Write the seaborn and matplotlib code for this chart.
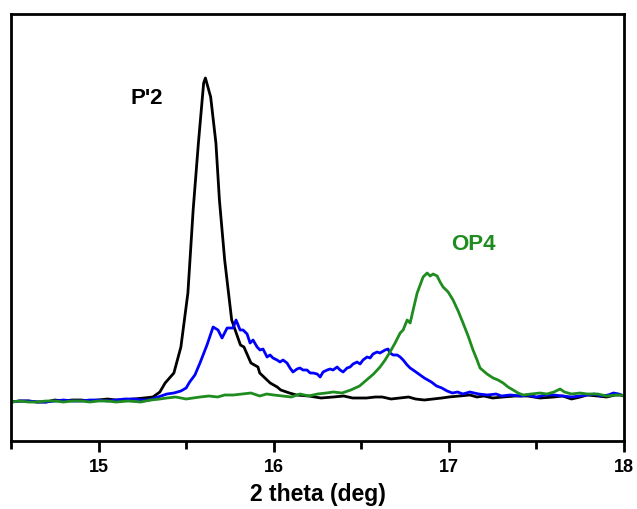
import matplotlib
matplotlib.use("Agg")
import matplotlib.pyplot as plt
from matplotlib.ticker import MultipleLocator
import seaborn as sns
import pandas as pd

# ---- data (intensity in arbitrary units) ----
black_x = [14.50, 14.55, 14.60, 14.65, 14.70, 14.75, 14.80, 14.85, 14.90, 14.95,
           15.00, 15.05, 15.10, 15.15, 15.20, 15.26, 15.31,
           15.35, 15.38, 15.43, 15.47, 15.51, 15.54, 15.57, 15.60, 15.61, 15.64,
           15.67, 15.69, 15.72, 15.76, 15.81, 15.83, 15.87, 15.91, 15.92, 15.98,
           16.02, 16.04, 16.09, 16.13, 16.20, 16.27, 16.34, 16.40, 16.45, 16.53,
           16.58, 16.62, 16.67, 16.72, 16.77, 16.81, 16.86, 16.91, 16.96, 17.00,
           17.06, 17.12, 17.16, 17.20, 17.25, 17.31, 17.38, 17.45, 17.52, 17.60,
           17.65, 17.70, 17.75, 17.79, 17.85, 17.90, 17.95, 17.98, 18.00]
black_y = [0, 1, 1, 0, 0, 2, 1, 2, 2, 1,
           2, 3, 2, 2, 3, 4, 5,
           10, 19, 29, 55, 109, 192, 259, 319, 324, 305,
           259, 202, 142, 82, 57, 55, 39, 35, 29, 19,
           15, 12, 9, 7, 6, 4, 5, 6, 4, 4,
           5, 5, 3, 4, 5, 3, 2, 3, 4, 5,
           6, 7, 5, 6, 4, 5, 6, 6, 4, 5,
           6, 3, 5, 7, 6, 5, 7, 7, 6]

blue_x = [14.50, 14.55, 14.60, 14.65, 14.70, 14.75, 14.80, 14.85, 14.90, 14.95,
          15.00, 15.05, 15.10, 15.15, 15.20, 15.25, 15.29, 15.34, 15.39, 15.43,
          15.47, 15.50, 15.52, 15.55, 15.579, 15.619, 15.654, 15.682, 15.705,
          15.734, 15.768, 15.785, 15.808, 15.825, 15.848, 15.865, 15.882, 15.905,
          15.922, 15.939, 15.962, 15.979, 15.996, 16.019, 16.036, 16.053, 16.076,
          16.093, 16.110, 16.133, 16.150, 16.167, 16.190, 16.208, 16.225, 16.248,
          16.265, 16.282, 16.305, 16.322, 16.339, 16.362, 16.379, 16.396, 16.419,
          16.436, 16.453, 16.476, 16.493, 16.510, 16.533, 16.550, 16.567, 16.590,
          16.607, 16.636, 16.653, 16.664, 16.682, 16.705, 16.722, 16.739, 16.762,
          16.779, 16.796, 16.82, 16.86, 16.90, 16.93, 16.96, 16.99, 17.02, 17.05,
          17.08, 17.12, 17.17, 17.22, 17.27, 17.30, 17.35, 17.41, 17.45, 17.50,
          17.55, 17.60, 17.65, 17.70, 17.75, 17.79, 17.83, 17.87, 17.91, 17.94,
          17.97, 18.00]
blue_y = [0, 1, 1, 0, 0, 1, 2, 1, 1, 2,
          2, 1, 2, 3, 3, 2, 2, 5, 8, 9,
          11, 14, 20, 27, 39, 57, 75, 72, 64,
          74, 74, 82, 72, 72, 68, 59, 62, 55,
          52, 53, 45, 47, 44, 42, 40, 42, 39,
          34, 30, 33, 34, 32, 32, 29, 29, 28,
          25, 30, 32, 33, 32, 35, 32, 30, 34,
          35, 38, 40, 38, 42, 45, 44, 48, 50,
          49, 52, 53, 49, 47, 47, 45, 42, 37,
          34, 32, 29, 24, 20, 16, 14, 11, 9, 10,
          8, 10, 8, 7, 8, 6, 7, 6, 7, 5,
          7, 7, 6, 5, 6, 7, 8, 6, 7, 9,
          8, 6]

green_x = [14.50, 14.55, 14.60, 14.65, 14.70, 14.75, 14.80, 14.85, 14.90, 14.95,
           15.00, 15.05, 15.10, 15.17, 15.24, 15.30, 15.35, 15.39, 15.44, 15.50,
           15.54, 15.58, 15.63, 15.68, 15.72, 15.77, 15.82, 15.87, 15.92, 15.96,
           16.00, 16.05, 16.10, 16.15, 16.20, 16.25, 16.30, 16.34, 16.39, 16.44,
           16.49, 16.53, 16.57, 16.607, 16.636, 16.664, 16.693, 16.722, 16.739,
           16.762, 16.779, 16.796, 16.819, 16.836, 16.853, 16.876, 16.893, 16.910,
           16.933, 16.950, 16.967, 16.996, 17.024, 17.053, 17.081, 17.110, 17.138,
           17.161, 17.178, 17.218, 17.253, 17.281, 17.310, 17.338, 17.367, 17.395,
           17.424, 17.47, 17.52, 17.56, 17.60, 17.635, 17.66, 17.70, 17.75, 17.79,
           17.85, 17.90, 17.95, 17.98, 18.00]
green_y = [0, 1, 0, 0, 1, 1, 0, 1, 1, 0,
           1, 1, 0, 1, 0, 2, 3, 4, 5, 3,
           4, 5, 6, 5, 7, 7, 8, 9, 6, 8,
           7, 6, 5, 8, 6, 8, 9, 10, 9, 12,
           16, 22, 28, 35, 42, 50, 59, 69, 72,
           82, 79, 92, 109, 117, 125, 129, 126, 128,
           126, 120, 115, 110, 102, 91, 79, 66, 52,
           42, 34, 28, 24, 22, 19, 15, 12, 9,
           7, 8, 9, 8, 10, 13, 10, 8, 9, 8,
           8, 6, 7, 7, 6]

series_names = ["P'2", "blue", "OP4"]
series_colors = ["#000000", "#0000ff", "#1e8c1e"]
x_ticks = [15, 16, 17, 18]

frames = []
for name, xs, ys in zip(series_names, [black_x, blue_x, green_x],
                        [black_y, blue_y, green_y]):
    frames.append(pd.DataFrame({"x": xs, "y": ys, "series": name}))
df = pd.concat(frames, ignore_index=True)

sns.set_style("white")
plt.rcParams["font.family"] = ["Liberation Sans", "DejaVu Sans"]
plt.rcParams["text.color"] = "black"
plt.rcParams["xtick.color"] = "black"
plt.rcParams["axes.labelcolor"] = "black"

fig = plt.figure(figsize=(6.37, 5.09), dpi=100)
ax = fig.add_axes([11 / 637, 68 / 509, 613 / 637, 427 / 509])

sns.lineplot(data=df, x="x", y="y", hue="series", hue_order=series_names,
             palette=series_colors, linewidth=2.0, legend=False, ax=ax,
             estimator=None, sort=False)

ax.set_xlim(14.5, 18.0)
ax.set_ylim(-39, 388)
ax.set_xticks(x_ticks)
ax.set_xticklabels([str(t) for t in x_ticks], fontsize=13, fontweight="bold")
ax.xaxis.set_minor_locator(MultipleLocator(0.5))
ax.set_yticks([])
ax.tick_params(axis="x", which="major", direction="out", length=8, width=2,
               bottom=True, pad=5)
ax.tick_params(axis="x", which="minor", direction="out", length=6, width=2,
               bottom=True)
for sp in ax.spines.values():
    sp.set_linewidth(2)
    sp.set_color("black")
ax.set_xlabel("2 theta (deg)", fontsize=16.5, fontweight="bold", labelpad=5)
ax.set_ylabel("")

ax.text(15.277, 303, "P'2", fontsize=16, fontweight="bold", color="black",
        ha="center", va="center")
ax.text(17.138, 157, "OP4", fontsize=16, fontweight="bold", color="#1e8c1e",
        ha="center", va="center")

fig.savefig("out.png", dpi=100)
